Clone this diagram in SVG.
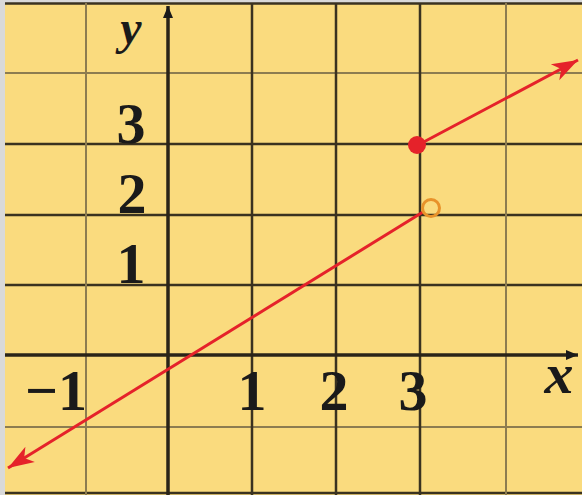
<svg xmlns="http://www.w3.org/2000/svg" width="582" height="495" viewBox="0 0 582 495">
<defs>
<style>
.bg{fill:#FADB7E}
.g{stroke:#3a3220;stroke-width:2.5;fill:none}
.gl{stroke:#8c7c50;stroke-width:2;fill:none}
.ax{stroke:#2a2418;stroke-width:3.5;fill:none}
.red{stroke:#E5222A;stroke-width:3;fill:none}
.lbl{font-family:"Liberation Serif","Times New Roman",serif;font-size:58px;font-weight:bold;fill:#1a1a1a;text-anchor:middle}
.var{font-style:italic}
</style>
<marker id="ra" markerUnits="userSpaceOnUse" markerWidth="28" markerHeight="22" refX="26" refY="11" orient="auto">
<path d="M0,2 L26,11 L0,20 L7,11 z" fill="#E5222A"/>
</marker>
<marker id="ka" markerUnits="userSpaceOnUse" markerWidth="14" markerHeight="12" refX="12" refY="6" orient="auto">
<path d="M0,1 L12,6 L0,11 z" fill="#1a1a1a"/>
</marker>
</defs>
<rect x="0" y="0" width="582" height="495" fill="#D9D9D9"/>
<rect class="bg" x="5" y="3" width="577" height="492"/>
<g id="grid">
<line class="g" x1="5" y1="3.5" x2="582" y2="3.5"/>
<line class="gl" x1="5" y1="73" x2="582" y2="73"/>
<line class="g" x1="5" y1="144" x2="582" y2="144"/>
<line class="g" x1="5" y1="215" x2="582" y2="215"/>
<line class="g" x1="5" y1="285" x2="582" y2="285"/>
<line class="gl" x1="5" y1="427" x2="582" y2="427"/>
<line class="g" x1="5" y1="493" x2="582" y2="493"/>
<line class="gl" x1="86" y1="3" x2="86" y2="495"/>
<line class="g" x1="252" y1="3" x2="252" y2="495"/>
<line class="g" x1="336" y1="3" x2="336" y2="495"/>
<line class="g" x1="420" y1="3" x2="420" y2="495"/>
<line class="gl" x1="506" y1="3" x2="506" y2="495"/>
</g>
<g id="axes">
<line class="ax" x1="5" y1="355" x2="578" y2="355" marker-end="url(#ka)"/>
<line class="ax" x1="168" y1="495" x2="168" y2="6" marker-end="url(#ka)"/>
</g>
<g id="labels">
<text class="lbl var" x="131" y="44" style="font-size:48px">y</text>
<text class="lbl var" x="559" y="393">x</text>
<text class="lbl" x="131" y="143">3</text>
<text class="lbl" x="132" y="213">2</text>
<text class="lbl" x="131" y="283">1</text>
<text class="lbl" x="56" y="410">−1</text>
<text class="lbl" x="252" y="410">1</text>
<text class="lbl" x="334" y="410">2</text>
<text class="lbl" x="413" y="410">3</text>
</g>
<g id="connectors">
<line class="red" x1="423" y1="212" x2="8" y2="468" marker-end="url(#ra)"/>
<line class="red" x1="418" y1="145" x2="578" y2="60" marker-end="url(#ra)"/>
</g>
<g id="open-point">
<circle cx="431" cy="208" r="8.5" fill="none" stroke="#E8922A" stroke-width="3"/>
</g>
<g id="closed-point">
<circle cx="417" cy="145" r="9" fill="#E5222A"/>
</g>
</svg>
